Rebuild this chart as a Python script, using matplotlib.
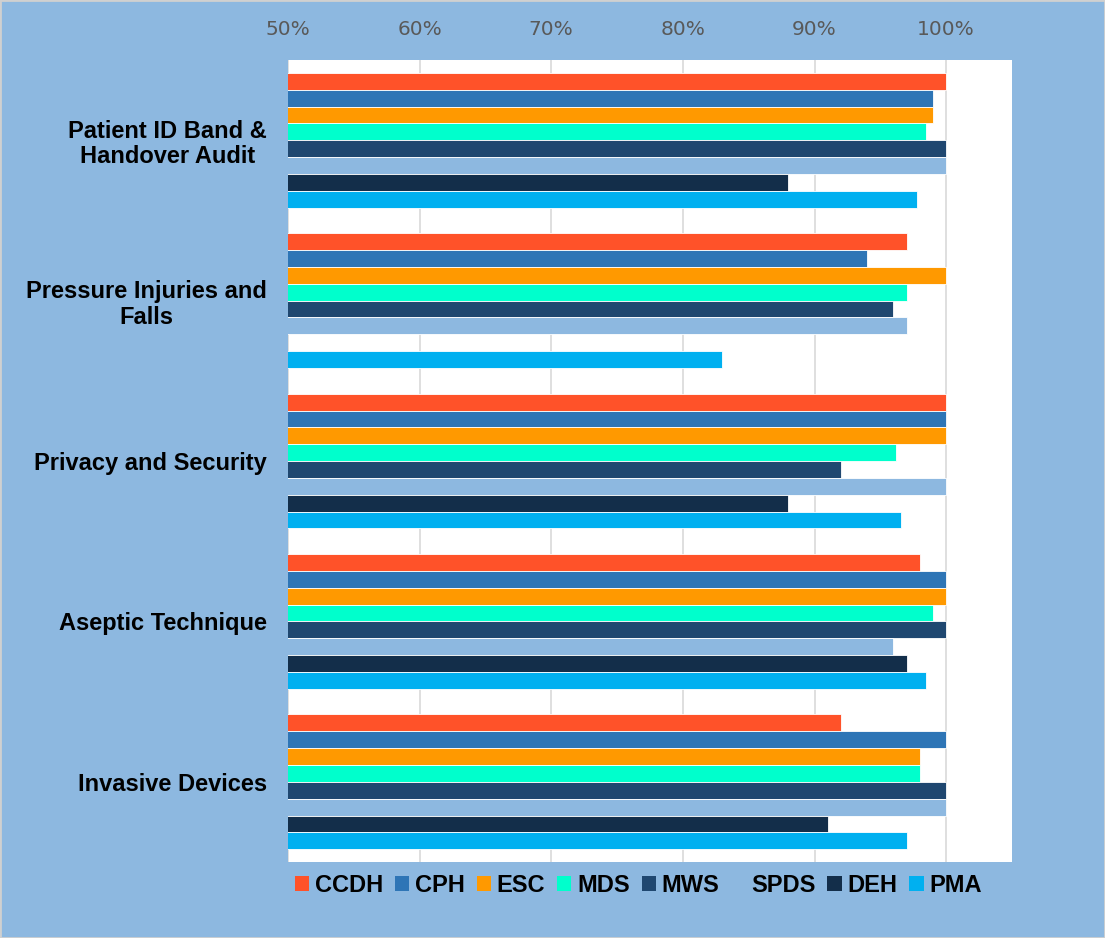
import numpy as np
import matplotlib.pyplot as plt

categories = ["Patient ID Band &\nHandover Audit", "Pressure Injuries and\nFalls",
              "Privacy and Security", "Aseptic Technique", "Invasive Devices"]
series = ["CCDH", "CPH", "ESC", "MDS", "MWS", "SPDS", "DEH", "PMA"]
colors = ["#FF5229", "#2E75B6", "#FF9900", "#00FFCC", "#1F4770", "#8DB8E0", "#132E4A", "#00B0F0"]

# percent compliance per series, one value per category (top to bottom)
ccdh = [100, 97, 100, 98, 92]
cph = [99, 94, 100, 100, 100]
esc = [99, 100, 100, 100, 98]
mds = [98.5, 97, 96.2, 99, 98]
mws = [100, 96, 92, 100, 100]
spds = [100, 97, 100, 96, 100]
deh = [88, np.nan, 88, 97, 91]
pma = [97.8, 83, 96.6, 98.5, 97]
values = [ccdh, cph, esc, mds, mws, spds, deh, pma]

ticks = [50, 60, 70, 80, 90, 100]
tick_labels = ["50%", "60%", "70%", "80%", "90%", "100%"]

bg = "#8DB8E0"
fig = plt.figure(figsize=(11.05, 9.38), dpi=100)
fig.patch.set_facecolor(bg)
ax = fig.add_axes([0.2606, 0.081, 0.6552, 0.855])
ax.set_facecolor("white")

n = len(series)
group = 0.84
h = group / n
pos = np.arange(len(categories))
for j, (name, vals, c) in enumerate(zip(series, values, colors)):
    y = pos - group / 2 + (j + 0.5) * h
    ax.barh(y, vals, height=h, color=c, edgecolor="white", linewidth=0.6,
            label=name, zorder=3)

ax.set_xlim(50, 105)
ax.set_ylim(len(categories) - 0.5, -0.5)
ax.set_xticks(ticks)
ax.set_xticklabels(tick_labels, fontsize=14.5, color="#595959",
                   family=["Liberation Sans Narrow", "DejaVu Sans"])
ax.xaxis.tick_top()
ax.tick_params(axis="x", length=0, pad=15)
ax.grid(axis="x", color="#D9D9D9", linewidth=1.2, zorder=0)
ax.set_yticks(pos)
ax.set_yticklabels(categories, fontsize=17, fontweight="bold",
                   family="Liberation Sans", multialignment="center",
                   linespacing=1.15)
ax.tick_params(axis="y", length=0, pad=15)
for s in ax.spines.values():
    s.set_visible(False)

leg = ax.legend(loc="upper center", bbox_to_anchor=(0.484, 0.012), ncol=8,
                frameon=False, handlelength=0.6, handleheight=0.6,
                handletextpad=0.25, columnspacing=0.5,
                prop={"family": "Liberation Sans", "weight": "bold", "size": 17})
for p in leg.get_patches():
    p.set_edgecolor("none")

# thin grey border along the figure edge
fig.patches.append(plt.Rectangle((0, 0), 1, 1, transform=fig.transFigure,
                                 fill=False, edgecolor="#D0D0D0", linewidth=2))

fig.savefig("out.png", dpi=100, facecolor=bg)
